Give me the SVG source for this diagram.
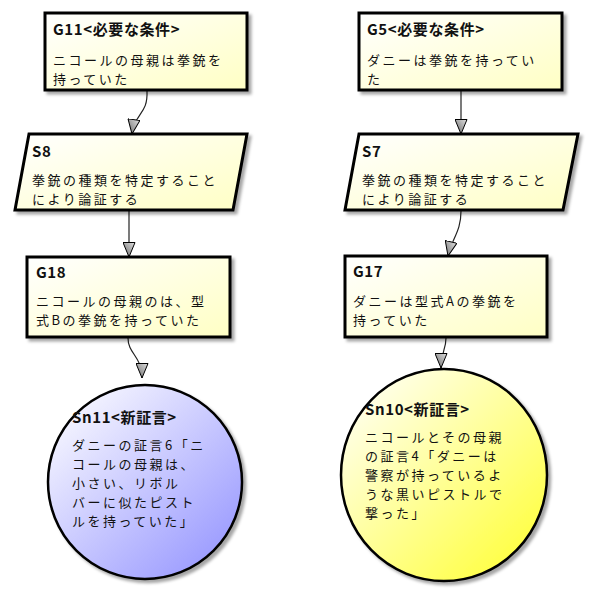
<svg xmlns="http://www.w3.org/2000/svg" width="590" height="593" viewBox="0 0 590 593">
<style>
.box{stroke:#000;stroke-width:3;fill:url(#gY);filter:url(#sh)}
.t{font-family:"Noto Sans CJK JP","Liberation Sans",sans-serif;font-size:13px;fill:#111;letter-spacing:2.5px}
.b{font-weight:bold;font-size:15px;letter-spacing:0.6px}
.c{fill:none;stroke:#222;stroke-width:1.2}
</style>
<defs>
<linearGradient id="gY" x1="0" y1="0" x2="1" y2="1"><stop offset="0" stop-color="#ffffff"/><stop offset="1" stop-color="#ffffc4"/></linearGradient>
<linearGradient id="gB" x1="0.15" y1="0.1" x2="0.9" y2="0.9"><stop offset="0" stop-color="#f4f4ff"/><stop offset="1" stop-color="#9a9aff"/></linearGradient>
<linearGradient id="gS" x1="0.15" y1="0.1" x2="0.9" y2="0.9"><stop offset="0" stop-color="#ffffe8"/><stop offset="1" stop-color="#ffff40"/></linearGradient>
<linearGradient id="gA" x1="0" y1="0" x2="1" y2="1"><stop offset="0" stop-color="#e0e0e0"/><stop offset="1" stop-color="#666"/></linearGradient>
<filter id="sh" x="-10%" y="-10%" width="130%" height="130%"><feDropShadow dx="3" dy="3" stdDeviation="1.5" flood-color="#000" flood-opacity="0.35"/></filter>
<marker id="arr" markerUnits="userSpaceOnUse" viewBox="0 0 15 13" refX="15" refY="6.5" markerWidth="15" markerHeight="13" orient="auto">
<path d="M0.5,0.5 L15,6.5 L0.5,12.5 Z" fill="url(#gA)" stroke="#000" stroke-width="1"/>
</marker>
</defs>
<g id="connectors">
<path class="c" d="M147,91 C148,115 135,112 132,134" marker-end="url(#arr)"/>
<path class="c" d="M129,211 L129,257" marker-end="url(#arr)"/>
<path class="c" d="M461,91 L461,134" marker-end="url(#arr)"/>
<path class="c" d="M461,211 C461,232 452,238 448,256" marker-end="url(#arr)"/>
<path class="c" d="M128,338 C128,354 142,356 142,378" marker-end="url(#arr)"/>
<path class="c" d="M446,338 C446,350 441,352 441,368" marker-end="url(#arr)"/>
</g>
<g id="G11">
<rect class="box" x="45" y="13" width="202" height="77"/>
<text class="t b" x="53" y="35">G11&lt;必要な条件&gt;</text>
<text class="t" x="53" y="65">ニコールの母親は拳銃を<tspan x="53" dy="19">持っていた</tspan></text>
</g>
<g id="G5">
<rect class="box" x="359" y="13" width="203" height="77"/>
<text class="t b" x="367" y="35">G5&lt;必要な条件&gt;</text>
<text class="t" x="367" y="65">ダニーは拳銃を持ってい<tspan x="367" dy="19">た</tspan></text>
</g>
<g id="S8">
<polygon class="box" points="29,134 247,134 233,210 15,210"/>
<text class="t b" x="32" y="157">S8</text>
<text class="t" x="32" y="185">拳銃の種類を特定すること<tspan x="32" dy="19">により論証する</tspan></text>
</g>
<g id="S7">
<polygon class="box" points="359,134 578,134 563,210 345,210"/>
<text class="t b" x="362" y="157">S7</text>
<text class="t" x="362" y="185">拳銃の種類を特定すること<tspan x="362" dy="19">により論証する</tspan></text>
</g>
<g id="G18">
<rect class="box" x="27" y="257" width="203" height="80"/>
<text class="t b" x="36" y="278">G18</text>
<text class="t" x="36" y="306">ニコールの母親のは、型<tspan x="36" dy="19">式Bの拳銃を持っていた</tspan></text>
</g>
<g id="G17">
<rect class="box" x="345" y="256" width="202" height="81"/>
<text class="t b" x="353" y="277">G17</text>
<text class="t" x="353" y="306">ダニーは型式Aの拳銃を<tspan x="353" dy="19">持っていた</tspan></text>
</g>
<g id="Sn11">
<circle cx="145" cy="482" r="97" fill="url(#gB)" stroke="#000" stroke-width="2.5" filter="url(#sh)"/>
<text class="t b" x="72" y="423">Sn11&lt;新証言&gt;</text>
<text class="t" x="72" y="450">ダニーの証言6「ニ<tspan x="72" dy="19">コールの母親は、</tspan><tspan x="72" dy="19">小さい、リボル</tspan><tspan x="72" dy="19">バーに似たピスト</tspan><tspan x="72" dy="19">ルを持っていた」</tspan></text>
</g>
<g id="Sn10">
<ellipse cx="444" cy="475" rx="103" ry="106" fill="url(#gS)" stroke="#000" stroke-width="2.5" filter="url(#sh)"/>
<text class="t b" x="365" y="415">Sn10&lt;新証言&gt;</text>
<text class="t" x="365" y="442">ニコールとその母親<tspan x="365" dy="19">の証言4「ダニーは</tspan><tspan x="365" dy="19">警察が持っているよ</tspan><tspan x="365" dy="19">うな黒いピストルで</tspan><tspan x="365" dy="19">撃った」</tspan></text>
</g>
</svg>
